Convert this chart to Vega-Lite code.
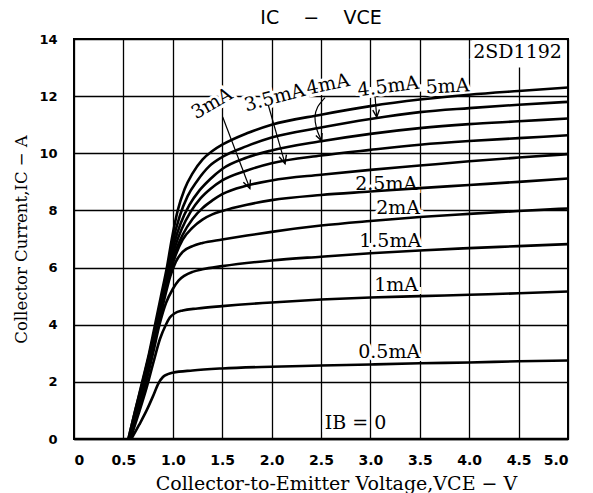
{
  "$schema": "https://vega.github.io/schema/vega-lite/v6.json",
  "width": 494,
  "height": 400,
  "autosize": {"type": "none"},
  "padding": {"left": 74, "top": 39, "right": 25, "bottom": 54},
  "background": "white",
  "title": {"text": "IC\u00a0\u00a0\u00a0\u00a0−\u00a0\u00a0\u00a0\u00a0VCE", "font": "DejaVu Sans", "fontSize": 19, "fontWeight": "normal", "color": "black", "offset": 5},
  "config": {
    "view": {"stroke": "black", "strokeWidth": 2},
    "axis": {"domain": false, "ticks": false, "grid": true, "gridColor": "black", "gridWidth": 1.3, "gridOpacity": 1,
      "labelFont": "DejaVu Sans", "labelFontWeight": "bold", "labelColor": "black",
      "titleFont": "DejaVu Serif", "titleFontWeight": "normal", "titleColor": "black"}
  },
  "datasets": {
    "curves": [
      {"ib":"0","v":0,"i":0},{"ib":"0","v":5,"i":0},
      {"ib":"5","v":0.55,"i":0},{"ib":"5","v":0.62,"i":1},{"ib":"5","v":0.69,"i":2},{"ib":"5","v":0.76,"i":3},{"ib":"5","v":0.82,"i":4},{"ib":"5","v":0.88,"i":5},{"ib":"5","v":0.94,"i":6},{"ib":"5","v":0.99,"i":7},{"ib":"5","v":1.05,"i":8},{"ib":"5","v":1.12,"i":8.75},{"ib":"5","v":1.2,"i":9.3},{"ib":"5","v":1.3,"i":9.78},{"ib":"5","v":1.4,"i":10.08},{"ib":"5","v":1.5,"i":10.3},{"ib":"5","v":1.75,"i":10.7},{"ib":"5","v":2.0,"i":11.0},{"ib":"5","v":2.5,"i":11.35},{"ib":"5","v":3.0,"i":11.65},{"ib":"5","v":3.5,"i":11.88},{"ib":"5","v":4.0,"i":12.05},{"ib":"5","v":4.5,"i":12.18},{"ib":"5","v":5.0,"i":12.3},
      {"ib":"4.5","v":0.55,"i":0},{"ib":"4.5","v":0.62,"i":1},{"ib":"4.5","v":0.695,"i":2},{"ib":"4.5","v":0.765,"i":3},{"ib":"4.5","v":0.83,"i":4},{"ib":"4.5","v":0.89,"i":5},{"ib":"4.5","v":0.95,"i":6},{"ib":"4.5","v":1.0,"i":6.9},{"ib":"4.5","v":1.07,"i":7.8},{"ib":"4.5","v":1.15,"i":8.5},{"ib":"4.5","v":1.25,"i":9.05},{"ib":"4.5","v":1.37,"i":9.55},{"ib":"4.5","v":1.5,"i":9.87},{"ib":"4.5","v":1.75,"i":10.25},{"ib":"4.5","v":2.0,"i":10.55},{"ib":"4.5","v":2.5,"i":10.9},{"ib":"4.5","v":3.0,"i":11.2},{"ib":"4.5","v":3.5,"i":11.44},{"ib":"4.5","v":4.0,"i":11.58},{"ib":"4.5","v":4.5,"i":11.7},{"ib":"4.5","v":5.0,"i":11.8},
      {"ib":"4","v":0.56,"i":0},{"ib":"4","v":0.63,"i":1},{"ib":"4","v":0.7,"i":2},{"ib":"4","v":0.77,"i":3},{"ib":"4","v":0.835,"i":4},{"ib":"4","v":0.895,"i":5},{"ib":"4","v":0.955,"i":6},{"ib":"4","v":1.01,"i":6.8},{"ib":"4","v":1.08,"i":7.55},{"ib":"4","v":1.17,"i":8.2},{"ib":"4","v":1.27,"i":8.7},{"ib":"4","v":1.38,"i":9.1},{"ib":"4","v":1.5,"i":9.45},{"ib":"4","v":1.75,"i":9.85},{"ib":"4","v":2.0,"i":10.1},{"ib":"4","v":2.5,"i":10.42},{"ib":"4","v":3.0,"i":10.68},{"ib":"4","v":3.5,"i":10.88},{"ib":"4","v":4.0,"i":11.02},{"ib":"4","v":4.5,"i":11.12},{"ib":"4","v":5.0,"i":11.22},
      {"ib":"3.5","v":0.56,"i":0},{"ib":"3.5","v":0.63,"i":1},{"ib":"3.5","v":0.705,"i":2},{"ib":"3.5","v":0.775,"i":3},{"ib":"3.5","v":0.84,"i":4},{"ib":"3.5","v":0.9,"i":5},{"ib":"3.5","v":0.96,"i":5.95},{"ib":"3.5","v":1.02,"i":6.7},{"ib":"3.5","v":1.09,"i":7.35},{"ib":"3.5","v":1.18,"i":7.95},{"ib":"3.5","v":1.28,"i":8.42},{"ib":"3.5","v":1.38,"i":8.75},{"ib":"3.5","v":1.5,"i":9.05},{"ib":"3.5","v":1.75,"i":9.4},{"ib":"3.5","v":2.0,"i":9.65},{"ib":"3.5","v":2.5,"i":9.92},{"ib":"3.5","v":3.0,"i":10.12},{"ib":"3.5","v":3.5,"i":10.3},{"ib":"3.5","v":4.0,"i":10.43},{"ib":"3.5","v":4.5,"i":10.53},{"ib":"3.5","v":5.0,"i":10.63},
      {"ib":"3","v":0.56,"i":0},{"ib":"3","v":0.635,"i":1},{"ib":"3","v":0.71,"i":2},{"ib":"3","v":0.78,"i":3},{"ib":"3","v":0.845,"i":4},{"ib":"3","v":0.905,"i":5},{"ib":"3","v":0.965,"i":5.9},{"ib":"3","v":1.03,"i":6.6},{"ib":"3","v":1.1,"i":7.15},{"ib":"3","v":1.2,"i":7.7},{"ib":"3","v":1.3,"i":8.08},{"ib":"3","v":1.4,"i":8.35},{"ib":"3","v":1.5,"i":8.57},{"ib":"3","v":1.75,"i":8.87},{"ib":"3","v":2.0,"i":9.05},{"ib":"3","v":2.5,"i":9.25},{"ib":"3","v":3.0,"i":9.42},{"ib":"3","v":3.5,"i":9.57},{"ib":"3","v":4.0,"i":9.72},{"ib":"3","v":4.5,"i":9.85},{"ib":"3","v":5.0,"i":9.97},
      {"ib":"2.5","v":0.57,"i":0},{"ib":"2.5","v":0.64,"i":1},{"ib":"2.5","v":0.715,"i":2},{"ib":"2.5","v":0.785,"i":3},{"ib":"2.5","v":0.85,"i":4},{"ib":"2.5","v":0.91,"i":4.95},{"ib":"2.5","v":0.97,"i":5.8},{"ib":"2.5","v":1.03,"i":6.45},{"ib":"2.5","v":1.1,"i":6.98},{"ib":"2.5","v":1.2,"i":7.4},{"ib":"2.5","v":1.3,"i":7.68},{"ib":"2.5","v":1.4,"i":7.86},{"ib":"2.5","v":1.5,"i":7.98},{"ib":"2.5","v":1.75,"i":8.2},{"ib":"2.5","v":2.0,"i":8.36},{"ib":"2.5","v":2.5,"i":8.54},{"ib":"2.5","v":3.0,"i":8.66},{"ib":"2.5","v":3.5,"i":8.78},{"ib":"2.5","v":4.0,"i":8.89},{"ib":"2.5","v":4.5,"i":9.0},{"ib":"2.5","v":5.0,"i":9.12},
      {"ib":"2","v":0.57,"i":0},{"ib":"2","v":0.645,"i":1},{"ib":"2","v":0.72,"i":2},{"ib":"2","v":0.79,"i":3},{"ib":"2","v":0.855,"i":4},{"ib":"2","v":0.915,"i":4.9},{"ib":"2","v":0.975,"i":5.7},{"ib":"2","v":1.03,"i":6.2},{"ib":"2","v":1.1,"i":6.55},{"ib":"2","v":1.2,"i":6.75},{"ib":"2","v":1.3,"i":6.86},{"ib":"2","v":1.5,"i":6.98},{"ib":"2","v":1.75,"i":7.12},{"ib":"2","v":2.0,"i":7.25},{"ib":"2","v":2.5,"i":7.47},{"ib":"2","v":3.0,"i":7.63},{"ib":"2","v":3.5,"i":7.77},{"ib":"2","v":4.0,"i":7.88},{"ib":"2","v":4.5,"i":7.98},{"ib":"2","v":5.0,"i":8.07},
      {"ib":"1.5","v":0.57,"i":0},{"ib":"1.5","v":0.65,"i":1},{"ib":"1.5","v":0.73,"i":2},{"ib":"1.5","v":0.8,"i":3},{"ib":"1.5","v":0.865,"i":4},{"ib":"1.5","v":0.93,"i":4.75},{"ib":"1.5","v":1.0,"i":5.25},{"ib":"1.5","v":1.06,"i":5.55},{"ib":"1.5","v":1.12,"i":5.72},{"ib":"1.5","v":1.2,"i":5.85},{"ib":"1.5","v":1.3,"i":5.94},{"ib":"1.5","v":1.5,"i":6.05},{"ib":"1.5","v":2.0,"i":6.25},{"ib":"1.5","v":2.5,"i":6.38},{"ib":"1.5","v":3.0,"i":6.5},{"ib":"1.5","v":3.5,"i":6.6},{"ib":"1.5","v":4.0,"i":6.68},{"ib":"1.5","v":4.5,"i":6.75},{"ib":"1.5","v":5.0,"i":6.82},
      {"ib":"1","v":0.57,"i":0},{"ib":"1","v":0.655,"i":0.9},{"ib":"1","v":0.735,"i":1.8},{"ib":"1","v":0.805,"i":2.7},{"ib":"1","v":0.87,"i":3.5},{"ib":"1","v":0.93,"i":4.0},{"ib":"1","v":0.97,"i":4.25},{"ib":"1","v":1.02,"i":4.4},{"ib":"1","v":1.1,"i":4.5},{"ib":"1","v":1.25,"i":4.57},{"ib":"1","v":1.5,"i":4.65},{"ib":"1","v":2.0,"i":4.78},{"ib":"1","v":2.5,"i":4.88},{"ib":"1","v":3.0,"i":4.95},{"ib":"1","v":3.5,"i":5.0},{"ib":"1","v":4.0,"i":5.05},{"ib":"1","v":4.5,"i":5.1},{"ib":"1","v":5.0,"i":5.16},
      {"ib":"0.5","v":0.58,"i":0},{"ib":"0.5","v":0.66,"i":0.5},{"ib":"0.5","v":0.735,"i":1.0},{"ib":"0.5","v":0.8,"i":1.5},{"ib":"0.5","v":0.855,"i":1.95},{"ib":"0.5","v":0.9,"i":2.17},{"ib":"0.5","v":0.95,"i":2.27},{"ib":"0.5","v":1.0,"i":2.32},{"ib":"0.5","v":1.2,"i":2.4},{"ib":"0.5","v":1.5,"i":2.47},{"ib":"0.5","v":2.0,"i":2.53},{"ib":"0.5","v":2.5,"i":2.57},{"ib":"0.5","v":3.0,"i":2.61},{"ib":"0.5","v":3.5,"i":2.65},{"ib":"0.5","v":4.0,"i":2.68},{"ib":"0.5","v":4.5,"i":2.72},{"ib":"0.5","v":5.0,"i":2.75}
    ],
    "shafts": [
      {"a":"s1","k":0,"v":1.505,"i":11.27},{"a":"s1","k":1,"v":1.78,"i":8.77},
      {"a":"s2","k":0,"v":1.967,"i":11.68},{"a":"s2","k":1,"v":2.136,"i":9.64},
      {"a":"s3","k":0,"v":2.541,"i":11.95},{"a":"s3","k":1,"v":2.466,"i":11.62},{"a":"s3","k":2,"v":2.439,"i":11.27},{"a":"s3","k":3,"v":2.456,"i":10.86},{"a":"s3","k":4,"v":2.507,"i":10.43},
      {"a":"s4","k":0,"v":3.047,"i":11.99},{"a":"s4","k":1,"v":3.064,"i":11.27}
    ],
    "heads": [
      {"a":"h1","k":0,"v":1.786,"i":9.08},{"a":"h1","k":1,"v":1.78,"i":8.77},{"a":"h1","k":2,"v":1.714,"i":8.99},
      {"a":"h2","k":0,"v":2.15,"i":9.95},{"a":"h2","k":1,"v":2.136,"i":9.64},{"a":"h2","k":2,"v":2.076,"i":9.88},
      {"a":"h3","k":0,"v":2.511,"i":10.71},{"a":"h3","k":1,"v":2.507,"i":10.43},{"a":"h3","k":2,"v":2.448,"i":10.62},
      {"a":"h4","k":0,"v":3.092,"i":11.53},{"a":"h4","k":1,"v":3.064,"i":11.27},{"a":"h4","k":2,"v":3.024,"i":11.51}
    ],
    "labels": [
      {"t":"2.5mA","v":3.16,"i":8.92},
      {"t":"2mA","v":3.28,"i":8.08},
      {"t":"1.5mA","v":3.2,"i":6.92},
      {"t":"1mA","v":3.26,"i":5.38},
      {"t":"0.5mA","v":3.19,"i":3.04},
      {"t":"IB = 0","v":2.85,"i":0.56},
      {"t":"2SD1192","v":4.49,"i":13.53}
    ],
    "rot": [
      {"t":"3mA","v":1.397,"i":11.75},
      {"t":"3.5mA","v":2.03,"i":11.95},
      {"t":"4mA","v":2.57,"i":12.41},
      {"t":"4.5mA","v":3.18,"i":12.34},
      {"t":"5mA","v":3.78,"i":12.34}
    ],
    "box": [{"v":4.03,"v2":4.985,"i":13.0,"i2":13.96}]
  },
  "encoding": {
    "x": {"field": "v", "type": "quantitative", "scale": {"domain": [0, 5], "nice": false},
      "axis": {"values": [0,0.5,1,1.5,2,2.5,3,3.5,4,4.5,5], "labelExpr": "datum.value == 0 ? '0' : format(datum.value, '.1f')", "labelFontSize": 14, "labelPadding": 14,
        "title": "Collector-to-Emitter Voltage,VCE − V", "titleFontSize": 19, "titlePadding": 7, "titleX": 262}},
    "y": {"field": "i", "type": "quantitative", "scale": {"domain": [0, 14], "nice": false},
      "axis": {"values": [0,2,4,6,8,10,12,14], "format": "d", "labelFontSize": 13, "labelPadding": 17,
        "title": "Collector Current,IC − A", "titleFontSize": 16.5, "titlePadding": 9}}
  },
  "layer": [
    {"data": {"name": "box"}, "mark": {"type": "rect", "fill": "white", "stroke": null},
      "encoding": {"x2": {"field": "v2"}, "y2": {"field": "i2"}}},
    {"data": {"name": "labels"}, "mark": {"type": "text", "font": "DejaVu Serif", "fontSize": 19, "stroke": "white", "strokeWidth": 6, "fill": "white"},
      "encoding": {"text": {"field": "t"}}},
    {"data": {"name": "rot"}, "transform": [{"filter": "datum.t == '3mA'"}], "mark": {"type": "text", "font": "DejaVu Serif", "fontSize": 19, "stroke": "white", "strokeWidth": 6, "fill": "white", "angle": 330},
      "encoding": {"text": {"field": "t"}}},
    {"data": {"name": "rot"}, "transform": [{"filter": "datum.t == '3.5mA'"}], "mark": {"type": "text", "font": "DejaVu Serif", "fontSize": 19, "stroke": "white", "strokeWidth": 6, "fill": "white", "angle": 345},
      "encoding": {"text": {"field": "t"}}},
    {"data": {"name": "rot"}, "transform": [{"filter": "datum.t == '4mA'"}], "mark": {"type": "text", "font": "DejaVu Serif", "fontSize": 19, "stroke": "white", "strokeWidth": 6, "fill": "white", "angle": 348},
      "encoding": {"text": {"field": "t"}}},
    {"data": {"name": "rot"}, "transform": [{"filter": "datum.t == '4.5mA'"}], "mark": {"type": "text", "font": "DejaVu Serif", "fontSize": 19, "stroke": "white", "strokeWidth": 6, "fill": "white", "angle": 353},
      "encoding": {"text": {"field": "t"}}},
    {"data": {"name": "rot"}, "transform": [{"filter": "datum.t == '5mA'"}], "mark": {"type": "text", "font": "DejaVu Serif", "fontSize": 19, "stroke": "white", "strokeWidth": 6, "fill": "white", "angle": 357},
      "encoding": {"text": {"field": "t"}}},
    {"data": {"name": "curves"}, "mark": {"type": "line", "color": "black", "strokeWidth": 2.6, "interpolate": "monotone"},
      "encoding": {"detail": {"field": "ib"}}},
    {"data": {"name": "shafts"}, "mark": {"type": "line", "color": "black", "strokeWidth": 1.2, "interpolate": "cardinal"},
      "encoding": {"detail": {"field": "a"}, "order": {"field": "k"}}},
    {"data": {"name": "heads"}, "mark": {"type": "line", "color": "black", "strokeWidth": 1.4},
      "encoding": {"detail": {"field": "a"}, "order": {"field": "k"}}},
    {"data": {"name": "labels"}, "mark": {"type": "text", "font": "DejaVu Serif", "fontSize": 19, "fill": "black"},
      "encoding": {"text": {"field": "t"}}},
    {"data": {"name": "rot"}, "transform": [{"filter": "datum.t == '3mA'"}], "mark": {"type": "text", "font": "DejaVu Serif", "fontSize": 19, "fill": "black", "angle": 330},
      "encoding": {"text": {"field": "t"}}},
    {"data": {"name": "rot"}, "transform": [{"filter": "datum.t == '3.5mA'"}], "mark": {"type": "text", "font": "DejaVu Serif", "fontSize": 19, "fill": "black", "angle": 345},
      "encoding": {"text": {"field": "t"}}},
    {"data": {"name": "rot"}, "transform": [{"filter": "datum.t == '4mA'"}], "mark": {"type": "text", "font": "DejaVu Serif", "fontSize": 19, "fill": "black", "angle": 348},
      "encoding": {"text": {"field": "t"}}},
    {"data": {"name": "rot"}, "transform": [{"filter": "datum.t == '4.5mA'"}], "mark": {"type": "text", "font": "DejaVu Serif", "fontSize": 19, "fill": "black", "angle": 353},
      "encoding": {"text": {"field": "t"}}},
    {"data": {"name": "rot"}, "transform": [{"filter": "datum.t == '5mA'"}], "mark": {"type": "text", "font": "DejaVu Serif", "fontSize": 19, "fill": "black", "angle": 357},
      "encoding": {"text": {"field": "t"}}}
  ]
}
